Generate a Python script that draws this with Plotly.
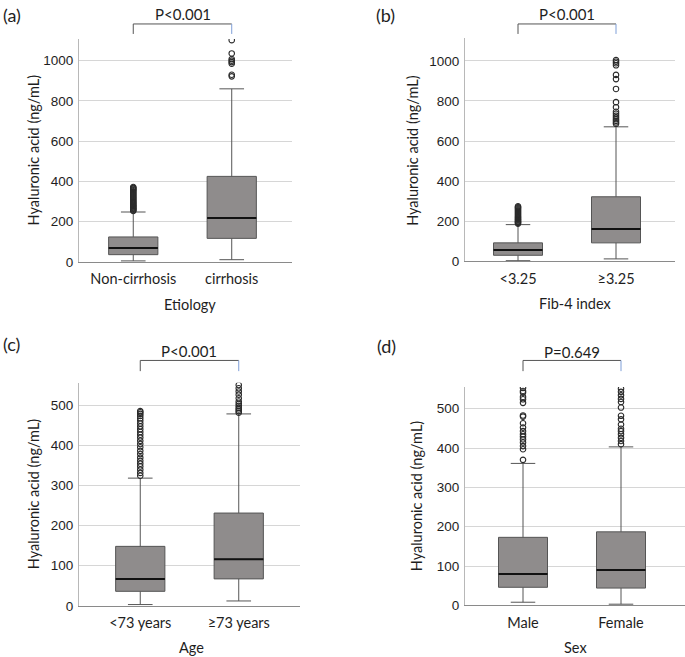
import plotly.graph_objects as go

W, H = 685, 657          # reference picture size (layout coordinates below are in these pixels)
FIG_H = 664              # rendered height (the capture is compressed vertically to 657)

# ---------------- data ----------------
# panel (a) Etiology
a_cats = ["Non-cirrhosis", "cirrhosis"]
a_lower = [5, 11]
a_q1 = [36, 117]
a_median = [69, 218]
a_q3 = [124, 425]
a_upper = [248, 860]
a_out_0 = [253, 257, 261, 264, 268, 272, 276, 279, 283, 288, 292, 297, 301, 306, 311,
           316, 321, 326, 331, 336, 341, 346, 351, 356, 360, 364, 368, 372]
a_out_1 = [922, 930, 985, 993, 1000, 1008, 1036, 1102]

# panel (b) Fib-4 index
b_cats = ["<3.25", "≥3.25"]
b_lower = [3, 12]
b_q1 = [30, 92]
b_median = [56, 161]
b_q3 = [92, 322]
b_upper = [183, 671]
b_out_0 = [188, 192, 196, 200, 204, 208, 212, 217, 221, 226, 231, 236, 241, 246, 251,
           256, 261, 266, 270, 274]
b_out_1 = [686, 693, 701, 709, 717, 726, 736, 746, 769, 794, 860, 909, 930, 978, 988,
           996, 1004]

# panel (c) Age
c_cats = ["<73 years", "≥73 years"]
c_lower = [3, 12]
c_q1 = [36, 67]
c_median = [67, 116]
c_q3 = [148, 231]
c_upper = [318, 478]
c_out_0 = [324, 331, 339, 347, 354, 361, 369, 378, 386, 395, 403, 411, 419, 426, 433,
           440, 447, 454, 461, 467, 473, 478, 482, 485]
c_out_1 = [481, 485, 489, 493, 498, 503, 509, 517, 526, 534, 542, 550]

# panel (d) Sex
d_cats = ["Male", "Female"]
d_lower = [8, 3]
d_q1 = [46, 44]
d_median = [80, 90]
d_q3 = [173, 187]
d_upper = [361, 403]
d_out_0 = [370, 397, 405, 414, 422, 429, 435, 443, 452, 463, 480, 483, 515, 524, 530,
           541, 545, 553]
d_out_1 = [410, 418, 426, 435, 443, 449, 460, 473, 482, 503, 517, 525, 534, 543, 551]

y_ticks_big = [0, 200, 400, 600, 800, 1000]
y_ticks_small = [0, 100, 200, 300, 400, 500]

panels = [
    dict(cats=a_cats, lo=a_lower, q1=a_q1, med=a_median, q3=a_q3, up=a_upper,
         outs=[a_out_0, a_out_1], yt=y_ticks_big, xtitle="Etiology", label="(a)", p="P<0.001",
         xdom=(79, 292), ydom=(262.3, 39), xr=(-0.551, 1.612), yr=(0, 1108),
         lab=(1, 15), ptxt=(182.5, 14), br=(24, 34), ytx=33, xtt=(190, 305)),
    dict(cats=b_cats, lo=b_lower, q1=b_q1, med=b_median, q3=b_q3, up=b_upper,
         outs=[b_out_0, b_out_1], yt=y_ticks_big, xtitle="Fib-4 index", label="(b)", p="P<0.001",
         xdom=(465, 675), ydom=(261.7, 38.5), xr=(-0.541, 1.602), yr=(0, 1112),
         lab=(374, 15), ptxt=(567, 14), br=(24, 34), ytx=413, xtt=(575, 304)),
    dict(cats=c_cats, lo=c_lower, q1=c_q1, med=c_median, q3=c_q3, up=c_upper,
         outs=[c_out_0, c_out_1], yt=y_ticks_small, xtitle="Age", label="(c)", p="P<0.001",
         xdom=(79, 300), ydom=(606.7, 383.3), xr=(-0.622, 1.622), yr=(0, 555.7),
         lab=(1, 345), ptxt=(189.5, 352), br=(361, 371.7), ytx=33, xtt=(191, 648)),
    dict(cats=d_cats, lo=d_lower, q1=d_q1, med=d_median, q3=d_q3, up=d_upper,
         outs=[d_out_0, d_out_1], yt=y_ticks_small, xtitle="Sex", label="(d)", p="P=0.649",
         xdom=(465, 685), ydom=(606.3, 387.7), xr=(-0.592, 1.653), yr=(0, 555),
         lab=(375, 347), ptxt=(572, 353), br=(361, 371.7), ytx=416, xtt=(575, 648)),
]

BOX_W = 0.5
FILL = "#8f8c8c"
EDGE = "#555555"
TEXT = "#1e1e1e"
TXT_FONT = "Lato"
NUM_FONT = "Liberation Sans"


def px(x):
    return x / W


def py(y):
    return 1 - y / H


fig = go.Figure()
annotations = []
shapes = []

for i, pn in enumerate(panels):
    k = "" if i == 0 else str(i + 1)
    xa, ya = "x" + k, "y" + k
    positions = list(range(len(pn["cats"])))
    fig.add_trace(go.Box(
        x=positions, q1=pn["q1"], median=pn["med"], q3=pn["q3"],
        lowerfence=pn["lo"], upperfence=pn["up"],
        width=BOX_W, whiskerwidth=0.5, fillcolor=FILL,
        line=dict(color=EDGE, width=1), boxpoints=False,
        xaxis=xa, yaxis=ya, showlegend=False, hoverinfo="skip"))
    # thick median lines
    for pos, m in zip(positions, pn["med"]):
        fig.add_trace(go.Scatter(
            x=[pos - BOX_W / 2, pos + BOX_W / 2], y=[m, m], mode="lines",
            line=dict(color="#111111", width=2), xaxis=xa, yaxis=ya,
            showlegend=False, hoverinfo="skip"))
    # outliers
    for pos, vals in zip(positions, pn["outs"]):
        fig.add_trace(go.Scatter(
            x=[pos] * len(vals), y=vals, mode="markers",
            marker=dict(symbol="circle-open", size=5.5, color="#2a2a2a",
                        line=dict(width=1.1, color="#2a2a2a")),
            xaxis=xa, yaxis=ya, showlegend=False, hoverinfo="skip"))

    xkey = "xaxis" + k
    ykey = "yaxis" + k
    fig.layout[xkey] = dict(
        domain=[px(pn["xdom"][0]), px(pn["xdom"][1])], range=list(pn["xr"]),
        anchor=ya, tickvals=positions, ticktext=pn["cats"],
        tickfont=dict(family=TXT_FONT, size=14.5, color=TEXT),
        ticks="outside", ticklen=4, tickcolor="rgba(0,0,0,0)",
        showline=True, linecolor="#8a8a8a", linewidth=1,
        showgrid=False, zeroline=False, fixedrange=True)
    fig.layout[ykey] = dict(
        domain=[py(pn["ydom"][0]), py(pn["ydom"][1])], range=list(pn["yr"]),
        anchor=xa, tickvals=pn["yt"],
        tickfont=dict(family=NUM_FONT, size=13.5, color=TEXT),
        ticks="outside", ticklen=2, tickcolor="rgba(0,0,0,0)",
        showline=True, linecolor="#b8b8b8", linewidth=1,
        showgrid=True, gridcolor="#d6d6d6", gridwidth=1,
        zeroline=False, fixedrange=True)

    # panel label
    annotations.append(dict(text=pn["label"], x=px(pn["lab"][0]), y=py(pn["lab"][1]),
                            xref="paper", yref="paper", xanchor="left", yanchor="middle",
                            showarrow=False, font=dict(family=TXT_FONT, size=18, color=TEXT)))
    # p-value
    annotations.append(dict(text=pn["p"], x=px(pn["ptxt"][0]), y=py(pn["ptxt"][1]),
                            xref="paper", yref="paper", xanchor="center", yanchor="middle",
                            showarrow=False, font=dict(family=TXT_FONT, size=15, color=TEXT)))
    # y title
    annotations.append(dict(text="Hyaluronic acid (ng/mL)", x=px(pn["ytx"]),
                            y=(py(pn["ydom"][0]) + py(pn["ydom"][1])) / 2,
                            xref="paper", yref="paper", xanchor="center", yanchor="middle",
                            textangle=-90, showarrow=False,
                            font=dict(family=TXT_FONT, size=14.5, color=TEXT)))
    # x title
    annotations.append(dict(text=pn["xtitle"], x=px(pn["xtt"][0]), y=py(pn["xtt"][1]),
                            xref="paper", yref="paper", xanchor="center", yanchor="middle",
                            showarrow=False, font=dict(family=TXT_FONT, size=14.5, color=TEXT)))
    # bracket
    top, bot = py(pn["br"][0]), py(pn["br"][1])
    shapes.append(dict(type="line", xref=xa, yref="paper", x0=positions[0], x1=positions[1],
                       y0=top, y1=top, line=dict(color="#555555", width=1)))
    shapes.append(dict(type="line", xref=xa, yref="paper", x0=positions[0], x1=positions[0],
                       y0=top, y1=bot, line=dict(color="#555555", width=1)))
    shapes.append(dict(type="line", xref=xa, yref="paper", x0=positions[1], x1=positions[1],
                       y0=top, y1=bot, line=dict(color="#7f9fd8", width=1)))

fig.update_layout(width=W, height=FIG_H, autosize=False,
                  margin=dict(l=0, r=0, t=0, b=0),
                  paper_bgcolor="white", plot_bgcolor="white",
                  annotations=annotations, shapes=shapes, showlegend=False)

fig.write_html("out.html", config={"displayModeBar": False, "staticPlot": True},
               post_script="document.body.style.margin='0';")
